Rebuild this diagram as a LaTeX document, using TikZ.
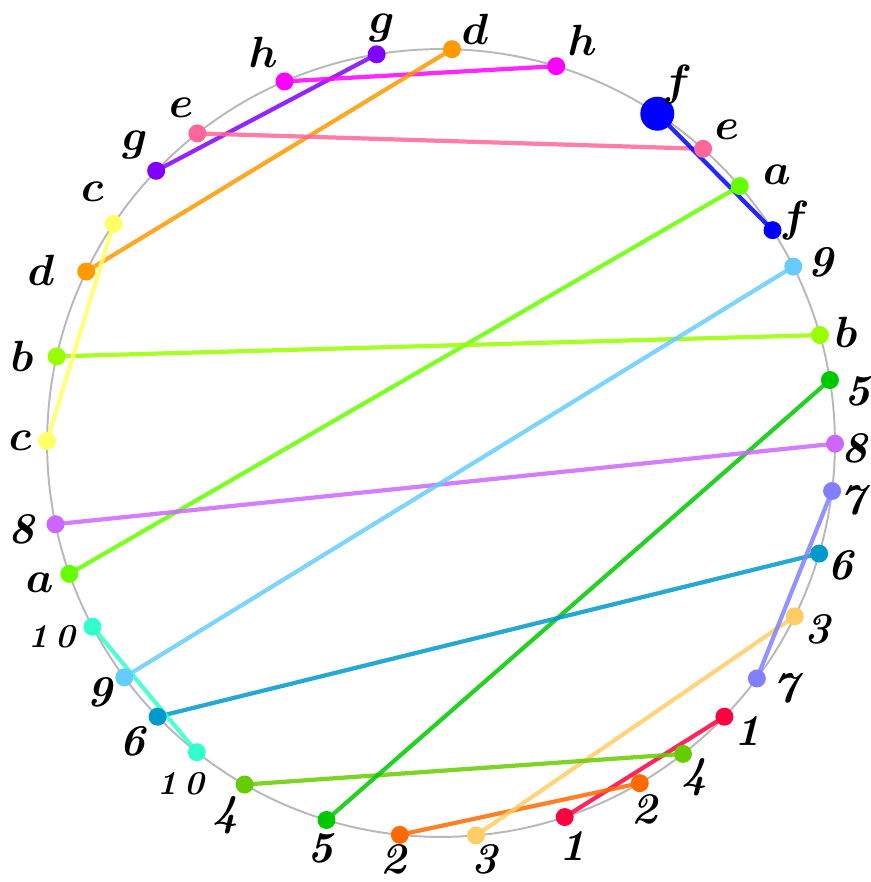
\documentclass[tikz,border=0pt]{standalone}
\usepackage{amsmath}
\usepackage{amssymb}
\usepackage{tikz}
\usetikzlibrary{backgrounds}

\definecolor{cOne}{HTML}{FF0040}
\definecolor{cTwo}{HTML}{FF6A00}
\definecolor{cThree}{HTML}{FFCC66}
\definecolor{cFour}{HTML}{66CC00}
\definecolor{cFive}{HTML}{00C800}
\definecolor{cSix}{HTML}{0099CC}
\definecolor{cSeven}{HTML}{8080FF}
\definecolor{cEight}{HTML}{CC66FF}
\definecolor{cNine}{HTML}{66CCFF}
\definecolor{cTen}{HTML}{33FFCC}
\definecolor{cA}{HTML}{66FF00}
\definecolor{cB}{HTML}{99FF00}
\definecolor{cC}{HTML}{FFFF66}
\definecolor{cD}{HTML}{FF9900}
\definecolor{cE}{HTML}{FF6699}
\definecolor{cF}{HTML}{0000FF}
\definecolor{cG}{HTML}{8000FF}
\definecolor{cH}{HTML}{FF00FF}

\newcommand{\plab}[1]{{\boldmath$\mathnormal{#1}$}}
\newcommand{\pnum}[1]{{\bfseries\itshape #1}}
\newcommand{\pten}{{\fontsize{19}{22}\selectfont\bfseries\itshape 1\hspace{0.22em}0}}

\begin{document}
\begin{tikzpicture}[
    x=0.02cm, y=0.02cm,
    dot/.style={circle, fill=#1, inner sep=0pt, minimum size=0.36cm},
    bigdot/.style={circle, fill=#1, inner sep=0pt, minimum size=0.68cm},
    chord/.style={draw=#1, line width=2.4pt, opacity=0.85},
    lbl/.style={inner sep=0pt, font=\fontsize{25}{30}\selectfont},
]
\useasboundingbox (-441,-439) rectangle (430,443);

% ---- Points on the ring ----
\node[dot=cG] (g1) at (136.3:394) {};
\node[dot=cG] (g2) at (99.4:394) {};
\node[dot=cH] (h1) at (113.4:394) {};
\node[dot=cH] (h2) at (73.0:394) {};
\node[dot=cD] (d1) at (154.2:394) {};
\node[dot=cD] (d2) at (88.4:394) {};
\node[dot=cE] (e1) at (128.2:394) {};
\node[dot=cE] (e2) at (48.3:394) {};
\node[bigdot=cF] (f1) at (56.7:394) {};
\node[dot=cF] (f2) at (32.7:394) {};
\node[dot=cA] (a1) at (199.4:394) {};
\node[dot=cA] (a2) at (40.7:394) {};
\node[dot=cB] (b1) at (167.3:394) {};
\node[dot=cB] (b2) at (15.9:394) {};
\node[dot=cC] (c1) at (146.2:394) {};
\node[dot=cC] (c2) at (179.7:394) {};
\node[dot=cOne] (n1a) at (288.3:394) {};
\node[dot=cOne] (n1b) at (316.0:394) {};
\node[dot=cTwo] (n2a) at (264.0:394) {};
\node[dot=cTwo] (n2b) at (300.3:394) {};
\node[dot=cThree] (n3a) at (275.1:394) {};
\node[dot=cThree] (n3b) at (333.9:394) {};
\node[dot=cFour] (n4a) at (240.1:394) {};
\node[dot=cFour] (n4b) at (307.9:394) {};
\node[dot=cFive] (n5a) at (253.1:394) {};
\node[dot=cFive] (n5b) at (9.2:394) {};
\node[dot=cSix] (n6a) at (224.0:394) {};
\node[dot=cSix] (n6b) at (343.7:394) {};
\node[dot=cSeven] (n7a) at (323.3:394) {};
\node[dot=cSeven] (n7b) at (353.0:394) {};
\node[dot=cEight] (n8a) at (191.9:394) {};
\node[dot=cEight] (n8b) at (359.9:394) {};
\node[dot=cNine] (n9a) at (216.5:394) {};
\node[dot=cNine] (n9b) at (26.6:394) {};
\node[dot=cTen] (n10a) at (207.8:394) {};
\node[dot=cTen] (n10b) at (231.7:394) {};

% ---- Labels ----
\node[lbl] (lg1) at (135.8:427) {\plab{g}};
\node[lbl] (lg2) at (98.1:419) {\plab{g}};
\node[lbl] (lh1) at (114.5:429) {\plab{h}};
\node[lbl] (lh2) at (70.7:427) {\plab{h}};
\node[lbl] (ld1) at (156.6:436) {\plab{d}};
\node[lbl] (ld2) at (85.3:415) {\plab{d}};
\node[lbl] (le1) at (127.8:424) {\plab{e}};
\node[lbl] (le2) at (47.6:424) {\plab{e}};
\node[lbl] (lf1) at (56.6:429) {\plab{f}};
\node[lbl] (lf2) at (32.2:418) {\plab{f}};
\node[lbl] (la1) at (199.2:425) {\plab{a}};
\node[lbl] (la2) at (38.6:430) {\plab{a}};
\node[lbl] (lb1) at (168.3:428) {\plab{b}};
\node[lbl] (lb2) at (15.3:420) {\plab{b}};
\node[lbl] (lc1) at (144.2:430) {\plab{c}};
\node[lbl] (lc2) at (179.7:421) {\plab{c}};
\node[lbl] (l1a) at (288.0:424) {\pnum{1}};
\node[lbl] (l1b) at (316.8:421) {\pnum{1}};
\node[lbl] (l2a) at (263.5:419) {\pnum{2}};
\node[lbl] (l2b) at (299.1:419) {\pnum{2}};
\node[lbl] (l3a) at (276.0:419) {\pnum{3}};
\node[lbl] (l3b) at (333.6:420) {\pnum{3}};
\node[lbl] (l4a) at (239.9:430) {\pnum{4}};
\node[lbl] (l4b) at (307.2:420) {\pnum{4}};
\node[lbl] (l5a) at (253.4:423) {\pnum{5}};
\node[lbl] (l5b) at (7.0:420) {\pnum{5}};
\node[lbl] (l6a) at (224.0:429) {\pnum{6}};
\node[lbl] (l6b) at (343.0:418) {\pnum{6}};
\node[lbl] (l7a) at (324.6:423) {\pnum{7}};
\node[lbl] (l7b) at (352.1:415) {\pnum{7}};
\node[lbl] (l8a) at (191.7:428) {\pnum{8}};
\node[lbl] (l8b) at (359.3:414) {\pnum{8}};
\node[lbl] (l9a) at (216.2:423) {\pnum{9}};
\node[lbl] (l9b) at (25.4:420) {\pnum{9}};
\node[lbl] (l10a) at (206.5:435) {\pten};
\node[lbl] (l10b) at (232.7:429) {\pten};

% ---- Ring and chords ----
\begin{scope}[on background layer]
  \draw[black!28, line width=1.1pt] (0,0) circle [radius=7.88cm];
  \draw[chord=cG] (g1.center) -- (g2.center);
  \draw[chord=cH] (h1.center) -- (h2.center);
  \draw[chord=cD] (d1.center) -- (d2.center);
  \draw[chord=cE] (e1.center) -- (e2.center);
  \draw[chord=cF] (f1.center) -- (f2.center);
  \draw[chord=cA] (a1.center) -- (a2.center);
  \draw[chord=cB] (b1.center) -- (b2.center);
  \draw[chord=cC] (c1.center) -- (c2.center);
  \draw[chord=cOne] (n1a.center) -- (n1b.center);
  \draw[chord=cTwo] (n2a.center) -- (n2b.center);
  \draw[chord=cThree] (n3a.center) -- (n3b.center);
  \draw[chord=cFour] (n4a.center) -- (n4b.center);
  \draw[chord=cFive] (n5a.center) -- (n5b.center);
  \draw[chord=cSix] (n6a.center) -- (n6b.center);
  \draw[chord=cSeven] (n7a.center) -- (n7b.center);
  \draw[chord=cEight] (n8a.center) -- (n8b.center);
  \draw[chord=cNine] (n9a.center) -- (n9b.center);
  \draw[chord=cTen] (n10a.center) -- (n10b.center);
\end{scope}

\end{tikzpicture}
\end{document}
